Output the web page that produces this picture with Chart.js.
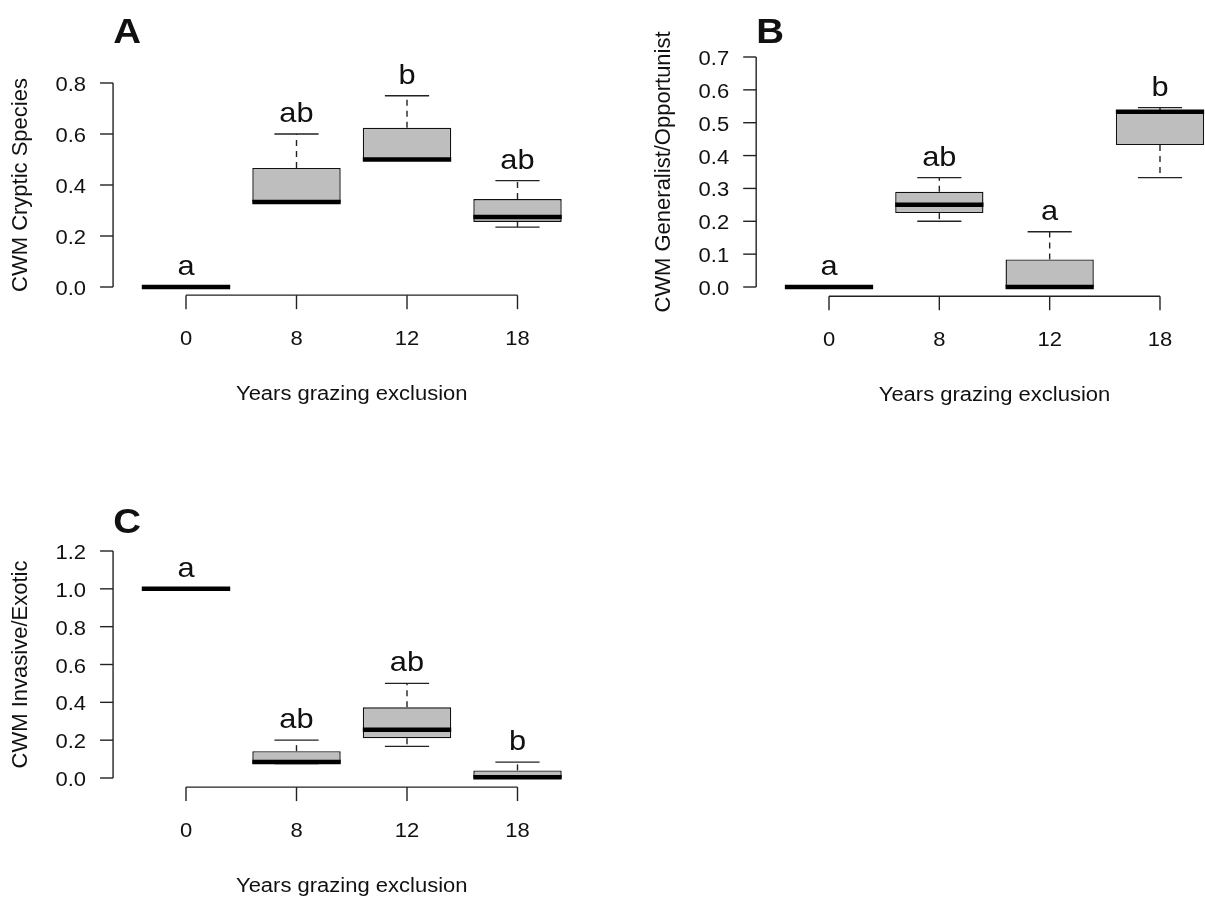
<!DOCTYPE html>
<html>
<head>
<meta charset="utf-8">
<script src="https://cdn.jsdelivr.net/npm/chart.js@4/dist/chart.umd.min.js"></script>
<style>
html,body{margin:0;padding:0;background:#fff;overflow:hidden;width:1205px;height:898px;position:relative}
canvas{position:absolute}
</style>
</head>
<body>
<canvas id="cA" width="600" height="440" style="left:0;top:0;width:600px;height:440px"></canvas>
<canvas id="cB" width="640" height="440" style="left:600px;top:0;width:640px;height:440px"></canvas>
<canvas id="cC" width="600" height="408" style="left:0;top:490px;width:600px;height:408px"></canvas>
<script>
// ---- categories ----
const years = ['0', '8', '12', '18'];
const xTitle = 'Years grazing exclusion';

// ---- Panel A: CWM Cryptic Species ----
const cryLow   = [0, 0.333, 0.5,   0.235];
const cryQ1    = [0, 0.333, 0.5,   0.255];
const cryMed   = [0, 0.333, 0.5,   0.275];
const cryQ3    = [0, 0.467, 0.625, 0.345];
const cryHigh  = [0, 0.6,   0.75,  0.417];
const cryLetters = ['a', 'ab', 'b', 'ab'];
const cryTicks = [0, 0.2, 0.4, 0.6, 0.8];

// ---- Panel B: CWM Generalist/Opportunist ----
const genLow   = [0, 0.2,   0,     0.333];
const genQ1    = [0, 0.225, 0,     0.432];
const genMed   = [0, 0.25,  0,     0.533];
const genQ3    = [0, 0.29,  0.084, 0.536];
const genHigh  = [0, 0.333, 0.168, 0.546];
const genLetters = ['a', 'ab', 'a', 'b'];
const genTicks = [0, 0.1, 0.2, 0.3, 0.4, 0.5, 0.6, 0.7];

// ---- Panel C: CWM Invasive/Exotic ----
const invLow   = [1, 0.077, 0.167, 0];
const invQ1    = [1, 0.077, 0.21,  0];
const invMed   = [1, 0.085, 0.255, 0.004];
const invQ3    = [1, 0.142, 0.374, 0.04];
const invHigh  = [1, 0.2,   0.5,   0.084];
const invLetters = ['a', 'ab', 'ab', 'b'];
const invTicks = [0, 0.2, 0.4, 0.6, 0.8, 1.0, 1.2];

const FONT = '"Liberation Sans", Arial, Helvetica, sans-serif';
const STRETCH = 1.1;
const INK = '#111';

function txt(ctx, s, x, y, font, align, base, sx) {
  ctx.save();
  ctx.font = font;
  ctx.textAlign = align;
  ctx.textBaseline = base;
  ctx.fillStyle = INK;
  ctx.translate(x, y);
  ctx.scale(sx, 1);
  ctx.fillText(s, 0, 0);
  ctx.restore();
}
function seg(ctx, x1, y1, x2, y2) {
  ctx.beginPath(); ctx.moveTo(x1, y1); ctx.lineTo(x2, y2); ctx.stroke();
}

const rStyle = {
  id: 'rStyle',
  afterDatasetsDraw(chart, args, o) {
    const ctx = chart.ctx, xs = chart.scales.x, ys = chart.scales.y;
    const sp = xs.getPixelForValue(1) - xs.getPixelForValue(0);
    const bw = sp * 0.8;
    const Y = v => ys.getPixelForValue(v);
    ctx.save();
    for (let i = 0; i < o.q1.length; i++) {
      const cx = xs.getPixelForValue(i);
      // whiskers (dashed)
      ctx.strokeStyle = '#222'; ctx.lineWidth = 1.4; ctx.setLineDash([6, 5]);
      if (o.high[i] > o.q3[i]) seg(ctx, cx, Y(o.q3[i]), cx, Y(o.high[i]));
      if (o.low[i] < o.q1[i]) seg(ctx, cx, Y(o.q1[i]), cx, Y(o.low[i]));
      ctx.setLineDash([]);
      // staples
      seg(ctx, cx - bw / 4, Y(o.high[i]), cx + bw / 4, Y(o.high[i]));
      seg(ctx, cx - bw / 4, Y(o.low[i]), cx + bw / 4, Y(o.low[i]));
      // median
      ctx.strokeStyle = '#000'; ctx.lineWidth = 4.5;
      seg(ctx, cx - bw / 2, Y(o.med[i]), cx + bw / 2, Y(o.med[i]));
      // significance letters
      txt(ctx, o.letters[i], cx, Y(o.high[i]) - 12, '28px ' + FONT, 'center', 'alphabetic', STRETCH);
    }
    // axes in R style
    const first = xs.getPixelForValue(0), last = xs.getPixelForValue(o.q1.length - 1);
    const yAxisX = first - 0.66 * sp;
    const xAxisY = ys.bottom + 0.04 * (ys.bottom - ys.top);
    ctx.strokeStyle = '#222'; ctx.lineWidth = 1.4;
    const t = o.ticks;
    seg(ctx, yAxisX, Y(t[0]), yAxisX, Y(t[t.length - 1]));
    t.forEach(v => {
      seg(ctx, yAxisX - 13, Y(v), yAxisX, Y(v));
      txt(ctx, v.toFixed(1), yAxisX - 27, Y(v) + 8, '20px ' + FONT, 'right', 'alphabetic', STRETCH);
    });
    seg(ctx, first, xAxisY, last, xAxisY);
    chart.data.labels.forEach((lab, i) => {
      const cx = xs.getPixelForValue(i);
      seg(ctx, cx, xAxisY, cx, xAxisY + 14);
      txt(ctx, lab, cx, xAxisY + 50, '20px ' + FONT, 'center', 'alphabetic', STRETCH);
    });
    txt(ctx, o.xTitle, (first + last) / 2, xAxisY + 105, '20px ' + FONT, 'center', 'alphabetic', STRETCH);
    // y title
    ctx.save();
    ctx.translate(yAxisX - 92, (Y(t[0]) + Y(t[t.length - 1])) / 2);
    ctx.rotate(-Math.PI / 2);
    ctx.font = '22px ' + FONT; ctx.textAlign = 'center'; ctx.textBaseline = 'middle'; ctx.fillStyle = INK;
    ctx.fillText(o.yTitle, 0, 0);
    ctx.restore();
    // panel tag
    txt(ctx, o.tag, yAxisX + 14, 43, 'bold 35px ' + FONT, 'center', 'alphabetic', STRETCH);
    ctx.restore();
  }
};

function makePanel(id, pad, yMin, yMax, p) {
  return new Chart(document.getElementById(id), {
    type: 'bar',
    data: {
      labels: years,
      datasets: [{
        data: p.q1.map((v, i) => [v, p.q3[i]]),
        backgroundColor: '#bebebe',
        borderColor: '#111',
        borderWidth: 1.4,
        borderSkipped: false,
        barPercentage: 0.8,
        categoryPercentage: 1.0,
        clip: false
      }]
    },
    options: {
      responsive: false,
      animation: false,
      devicePixelRatio: 1,
      layout: { padding: pad },
      scales: {
        x: { type: 'category', display: false, offset: true },
        y: { type: 'linear', display: false, min: yMin, max: yMax }
      },
      plugins: {
        legend: { display: false },
        tooltip: { enabled: false },
        rStyle: p
      }
    },
    plugins: [rStyle]
  });
}

makePanel('cA', { left: 130.75, right: 27.25, top: 83, bottom: 153 }, 0, 0.8, {
  low: cryLow, q1: cryQ1, med: cryMed, q3: cryQ3, high: cryHigh, letters: cryLetters,
  ticks: cryTicks, xTitle: xTitle, yTitle: 'CWM Cryptic Species', tag: 'A'
});
makePanel('cB', { left: 173.83, right: 24.84, top: 57, bottom: 153 }, 0, 0.7, {
  low: genLow, q1: genQ1, med: genMed, q3: genQ3, high: genHigh, letters: genLetters,
  ticks: genTicks, xTitle: xTitle, yTitle: 'CWM Generalist/Opportunist', tag: 'B'
});
makePanel('cC', { left: 130.75, right: 27.25, top: 61, bottom: 120 }, 0, 1.2, {
  low: invLow, q1: invQ1, med: invMed, q3: invQ3, high: invHigh, letters: invLetters,
  ticks: invTicks, xTitle: xTitle, yTitle: 'CWM Invasive/Exotic', tag: 'C'
});
</script>
</body>
</html>
